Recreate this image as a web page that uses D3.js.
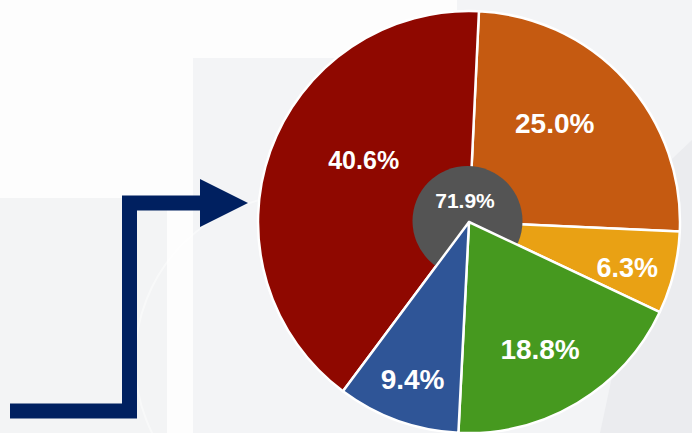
<!DOCTYPE html>
<html>
<head>
<meta charset="utf-8">
<script src="https://cdn.jsdelivr.net/npm/d3@7"></script>
<style>
  html, body { margin: 0; padding: 0; background: #fdfdfd; }
  svg { display: block; }
  text { font-family: "Liberation Sans", Arial, sans-serif; font-weight: bold; }
</style>
</head>
<body>
<svg id="chart" width="692" height="433"></svg>
<script>
// ---- data ----
const categories = ["A", "B", "C", "D", "E"];
const values = [25.0, 6.3, 18.8, 9.4, 40.6];
const labels = ["25.0%", "6.3%", "18.8%", "9.4%", "40.6%"];
const colors = ["#c55a11", "#e9a114", "#46991f", "#2f5597", "#8f0800"];
const centerLabel = "71.9%";
// slices drawn above the centre disc
const onTop = [false, false, true, true, false];
// label placement (fraction of radius, angular shift in degrees)
const labelRadius = [0.62, 0.78, 0.69, 0.79, 0.58];
const labelShift = [-6.7, 2, 1.7, 0, 10.9];
const labelSize = [28, 27, 28, 28, 25];

const W = 692, H = 433;
const cx = 469, cy = 222, R = 211, r0 = 55;
const svg = d3.select("#chart");

// ---- background ----
const bg = svg.append("g");
bg.append("rect").attr("x", 0).attr("y", 0).attr("width", W).attr("height", H).attr("fill", "#fdfdfd");
bg.append("rect").attr("x", 193).attr("y", 58).attr("width", W - 193).attr("height", H - 58).attr("fill", "#f3f4f6");
bg.append("rect").attr("x", 457).attr("y", 0).attr("width", W - 457).attr("height", 58).attr("fill", "#f3f4f6");
bg.append("rect").attr("x", 0).attr("y", 198).attr("width", 167).attr("height", H - 198).attr("fill", "#f3f4f5");
bg.append("path").attr("d", "M655,175 L692,140 L692,433 L600,433 Z").attr("fill", "#ebecef");
// faint watermark ring
bg.append("circle").attr("cx", 300).attr("cy", 360).attr("r", 165)
  .attr("fill", "none").attr("stroke", "#ffffff").attr("stroke-opacity", 0.45).attr("stroke-width", 2);

// ---- arrow ----
const arrow = svg.append("g");
const line = d3.line();
arrow.append("path")
  .attr("d", line([[10, 411], [129.5, 411], [129.5, 203], [205, 203]]))
  .attr("fill", "none").attr("stroke", "#002060").attr("stroke-width", 15)
  .attr("stroke-linejoin", "miter");
arrow.append("path")
  .attr("d", line([[200, 179], [248, 203], [200, 227]]) + "Z")
  .attr("fill", "#002060");

// ---- pie ----
const start = 2.7 * Math.PI / 180;
const pie = d3.pie().sort(null).value(d => d).startAngle(start).endAngle(start + 2 * Math.PI);
const arcs = pie(values);
const arc = d3.arc().innerRadius(0).outerRadius(R);

const g = svg.append("g").attr("transform", `translate(${cx},${cy})`);
const lower = g.append("g");
const mid = g.append("g");
const upper = g.append("g");
const lab = g.append("g");

arcs.forEach((a, i) => {
  (onTop[i] ? upper : lower).append("path")
    .attr("d", arc(a))
    .attr("fill", colors[i])
    .attr("stroke", "#ffffff")
    .attr("stroke-width", 2.5)
    .attr("stroke-linejoin", "round");
});

mid.append("circle").attr("cx", -1.5).attr("cy", -1).attr("r", r0).attr("fill", "#545454");
mid.append("text")
  .attr("x", -4).attr("y", -21.5).attr("dy", "0.36em")
  .attr("text-anchor", "middle").attr("fill", "#ffffff")
  .attr("font-size", 21).text(centerLabel);

arcs.forEach((a, i) => {
  const ang = (a.startAngle + a.endAngle) / 2 + labelShift[i] * Math.PI / 180;
  const rr = labelRadius[i] * R;
  lab.append("text")
    .attr("x", rr * Math.sin(ang))
    .attr("y", -rr * Math.cos(ang))
    .attr("dy", "0.36em")
    .attr("text-anchor", "middle")
    .attr("fill", "#ffffff")
    .attr("font-size", labelSize[i])
    .text(labels[i]);
});
</script>
</body>
</html>
